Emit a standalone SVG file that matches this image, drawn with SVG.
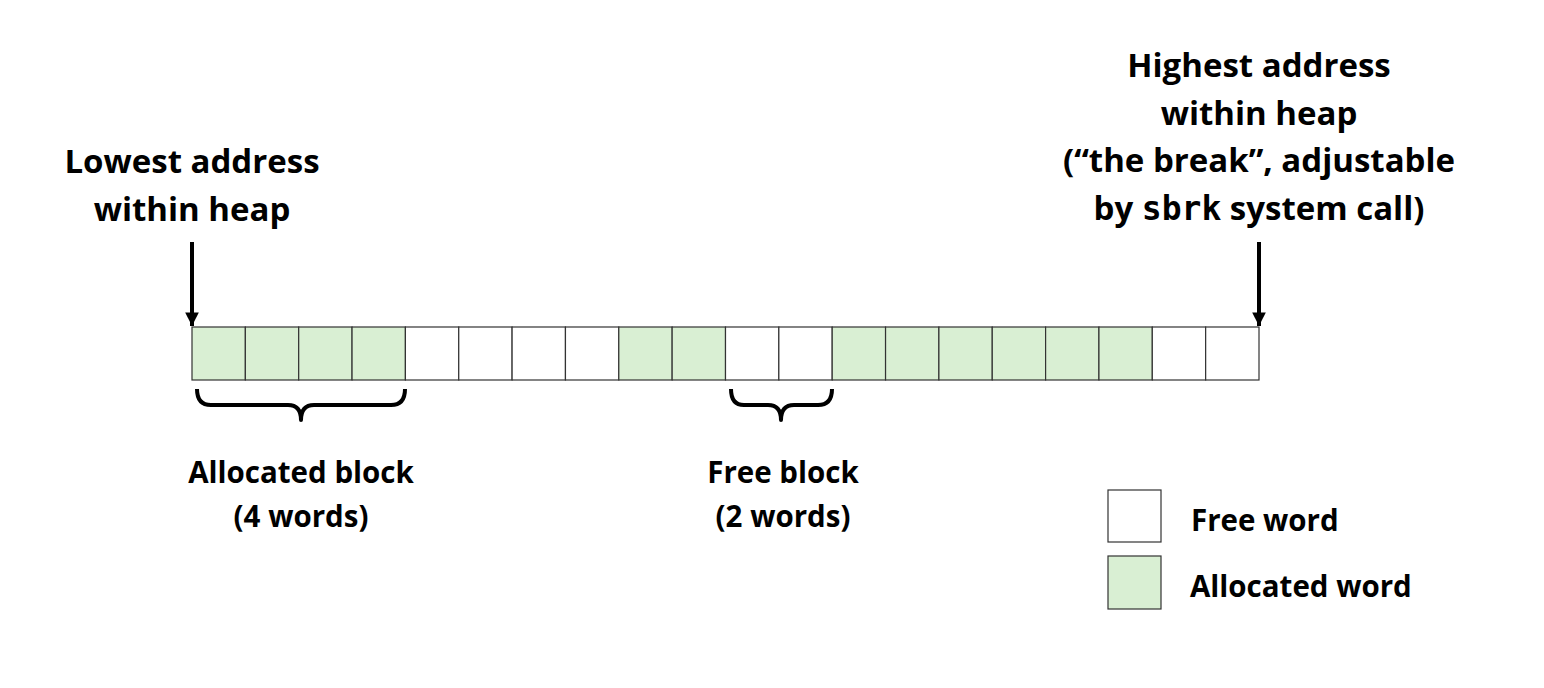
<svg xmlns="http://www.w3.org/2000/svg" width="1544" height="688" viewBox="0 0 1544 688">
<defs>
<style>
.t{font-family:"Open Sans","Liberation Sans",sans-serif;font-weight:bold;font-size:29.5px;fill:#000;text-anchor:middle}
.big{font-size:33px}
.l{text-anchor:start}
.m{font-family:"DejaVu Sans Mono","Liberation Mono",monospace;font-weight:bold}
.g{fill:#d9efd3;stroke:#333;stroke-width:1.2}
.w{fill:#fff;stroke:#333;stroke-width:1.2}
.br{fill:none;stroke:#000;stroke-width:4;stroke-linejoin:round}
.ar{stroke:#000;stroke-width:4}
</style>
<marker id="ah" viewBox="0 0 10 10" refX="10" refY="5" markerWidth="3.4" markerHeight="3.4" orient="auto" markerUnits="strokeWidth">
<path d="M0,0 L10,5 L0,10 z" fill="#000"/>
</marker>
</defs>
<rect width="1544" height="688" fill="#fff"/>
<g id="heap">
<rect class="g" x="192" y="327" width="53.35" height="53"/>
<rect class="g" x="245.35" y="327" width="53.35" height="53"/>
<rect class="g" x="298.7" y="327" width="53.35" height="53"/>
<rect class="g" x="352.05" y="327" width="53.35" height="53"/>
<rect class="w" x="405.4" y="327" width="53.35" height="53"/>
<rect class="w" x="458.75" y="327" width="53.35" height="53"/>
<rect class="w" x="512.1" y="327" width="53.35" height="53"/>
<rect class="w" x="565.45" y="327" width="53.35" height="53"/>
<rect class="g" x="618.8" y="327" width="53.35" height="53"/>
<rect class="g" x="672.15" y="327" width="53.35" height="53"/>
<rect class="w" x="725.5" y="327" width="53.35" height="53"/>
<rect class="w" x="778.85" y="327" width="53.35" height="53"/>
<rect class="g" x="832.2" y="327" width="53.35" height="53"/>
<rect class="g" x="885.55" y="327" width="53.35" height="53"/>
<rect class="g" x="938.9" y="327" width="53.35" height="53"/>
<rect class="g" x="992.25" y="327" width="53.35" height="53"/>
<rect class="g" x="1045.6" y="327" width="53.35" height="53"/>
<rect class="g" x="1098.95" y="327" width="53.35" height="53"/>
<rect class="w" x="1152.3" y="327" width="53.35" height="53"/>
<rect class="w" x="1205.65" y="327" width="53.35" height="53"/>
</g>
<g id="connectors">
<line class="ar" x1="192" y1="242" x2="192" y2="326" marker-end="url(#ah)"/>
<line class="ar" x1="1259" y1="242" x2="1259" y2="326" marker-end="url(#ah)"/>
<path class="br" d="M197,389 Q197,405 211,405 L288,405 Q301,405 301,420 Q301,405 314,405 L391,405 Q405,405 405,389"/>
<path class="br" d="M731,389 Q731,405 744,405 L768,405 Q781,405 781,420 Q781,405 794,405 L818,405 Q832,405 832,389"/>
</g>
<g id="lowest-label">
<text class="t big" x="192" y="173">Lowest address</text>
<text class="t big" x="192" y="221">within heap</text>
</g>
<g id="highest-label">
<text class="t big" x="1259" y="77">Highest address</text>
<text class="t big" x="1259" y="125">within heap</text>
<text class="t big" x="1259" y="172">(“the break”, adjustable</text>
<text class="t big" x="1259" y="220">by <tspan class="m">sbrk</tspan> system call)</text>
</g>
<g id="alloc-block-label">
<text class="t" x="301" y="483">Allocated block</text>
<text class="t" x="301" y="527">(4 words)</text>
</g>
<g id="free-block-label">
<text class="t" x="783" y="483">Free block</text>
<text class="t" x="783" y="527">(2 words)</text>
</g>
<g id="legend-free">
<rect class="w" x="1108" y="490" width="53" height="52"/>
<text class="t l" x="1191" y="531">Free word</text>
</g>
<g id="legend-alloc">
<rect class="g" x="1108" y="556" width="53" height="53"/>
<text class="t l" x="1190" y="597">Allocated word</text>
</g>
</svg>
